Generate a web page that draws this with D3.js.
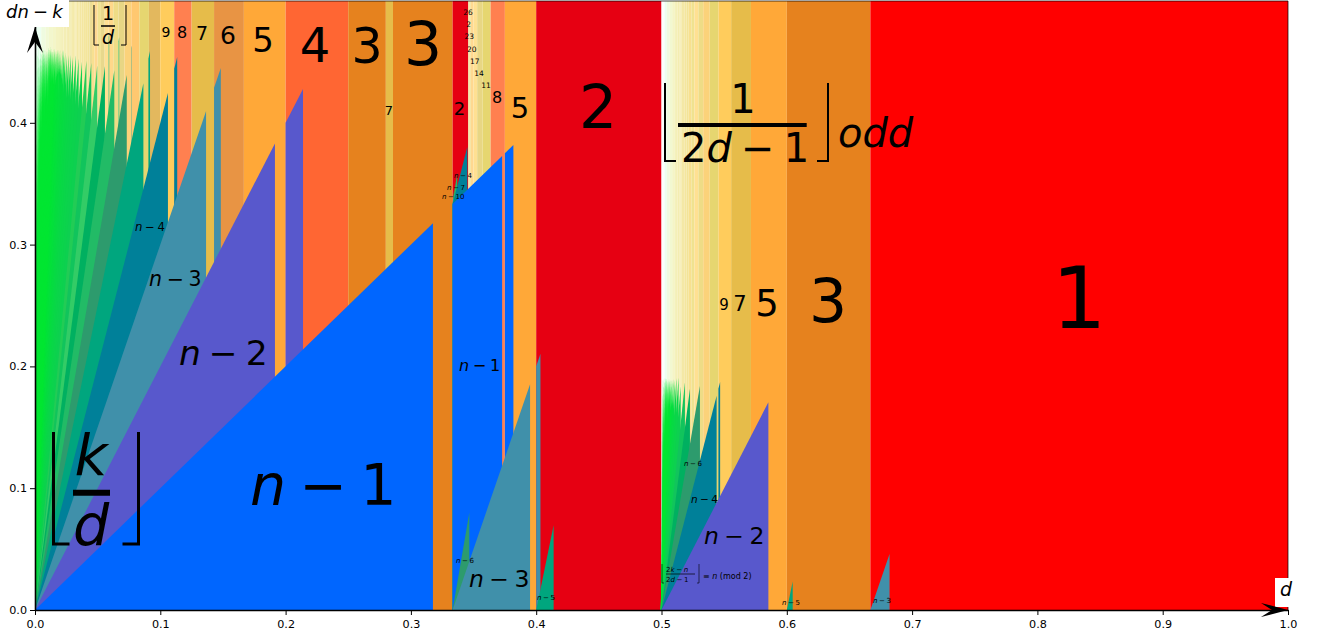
<!DOCTYPE html>
<html>
<head>
<meta charset="utf-8">
<script src="https://cdn.jsdelivr.net/npm/d3@7"></script>
<style>
  html, body { margin: 0; padding: 0; background: #fff; overflow: hidden; }
  svg { display: block; font-family: "DejaVu Sans", sans-serif; }
</style>
</head>
<body>
<svg id="chart" width="1322" height="637"></svg>
<script>
// vertical bands: each one starts at bandStart[i] and runs up to the next start
const bandStart = [
  0, 0.005, 0.0083, 0.0111, 0.0143, 0.0167, 0.0192, 0.0208, 0.0227, 0.025,
  0.0263, 0.0278, 0.0286, 0.0294, 0.0303, 0.0313, 0.0323, 0.0333, 0.0345, 0.0357,
  0.037, 0.0385, 0.04, 0.0417, 0.0435, 0.0455, 0.0476, 0.05, 0.0526, 0.0556,
  0.0588, 0.0625, 0.0667, 0.0714, 0.0769, 0.0833, 0.0909, 0.1, 0.1111, 0.125,
  0.1429, 0.1667, 0.2, 0.25, 0.28, 0.2857, 0.3333, 0.3458, 0.3466, 0.3478,
  0.35, 0.3529, 0.3571, 0.3636, 0.375, 0.4,
  0.5, 0.5025, 0.5042, 0.5063, 0.5085, 0.5102, 0.5116, 0.5128, 0.5143, 0.5152,
  0.5161, 0.5172, 0.5185, 0.52, 0.5217, 0.5238, 0.5263, 0.5294, 0.5333, 0.5385,
  0.5455, 0.5556, 0.5714, 0.6, 0.6667
]
const bandLevel = [
  200, 120, 90, 70, 60, 52, 48, 44, 40, 38,
  36, 35, 34, 33, 32, 31, 30, 29, 28, 27,
  26, 25, 24, 23, 22, 21, 20, 19, 18, 17,
  16, 15, 14, 13, 12, 11, 10, 9, 8, 7,
  6, 5, 4, 3, 7, 3, 2, 26, 23, 20,
  17, 14, 11, 8, 5, 2,
  397, 197, 117, 77, 57, 47, 41, 37, 33, 31,
  29, 27, 25, 23, 21, 19, 17, 15, 13, 11,
  9, 7, 5, 3, 1
]

// wedges: [offset, from d, to d], the offset is also the slope of the top edge
const wedgesFromZero = [
  [1, 0, 0.3176], [1, 0.3333, 0.3728], [1, 0.375, 0.3818],
  [2, 0, 0.1915], [2, 0.2, 0.2139],
  [3, 0, 0.1365], [3, 0.1429, 0.1483],
  [4, 0, 0.1061], [4, 0.1111, 0.1135],
  [5, 0, 0.0865], [5, 0.0905, 0.0918],
  [6, 0, 0.0732], [6, 0.0769, 0.0772],
  [7, 0, 0.0633], [7, 0.0667, 0.0672],
  [8, 0, 0.0558], [8, 0.0588, 0.0592],
  [9, 0, 0.0497], [10, 0, 0.0449], [11, 0, 0.041], [12, 0, 0.0375],
  [13, 0, 0.0348], [14, 0, 0.0325], [15, 0, 0.0303], [16, 0, 0.0285],
  [17, 0, 0.0268], [18, 0, 0.0253], [19, 0, 0.0241], [20, 0, 0.023],
  [21, 0, 0.0219], [22, 0, 0.0208], [23, 0, 0.02], [24, 0, 0.0191],
  [25, 0, 0.0184], [26, 0, 0.0177], [27, 0, 0.017], [28, 0, 0.0164],
  [29, 0, 0.0159], [30, 0, 0.0153], [31, 0, 0.0148], [32, 0, 0.0144],
  [33, 0, 0.0139], [34, 0, 0.0135], [35, 0, 0.0131], [36, 0, 0.0128],
  [37, 0, 0.0125], [38, 0, 0.0121], [39, 0, 0.0118], [40, 0, 0.0115],
  [42, 0, 0.011], [43, 0, 0.0107], [45, 0, 0.0102], [47, 0, 0.0098],
  [48, 0, 0.0096], [50, 0, 0.0092], [52, 0, 0.0088], [55, 0, 0.0084],
  [58, 0, 0.0079], [60, 0, 0.0077], [62, 0, 0.0074], [65, 0, 0.0071],
  [68, 0, 0.0068], [70, 0, 0.0066], [72, 0, 0.0064], [75, 0, 0.0061],
  [80, 0, 0.0058], [85, 0, 0.0054], [90, 0, 0.0051], [95, 0, 0.0048],
  [100, 0, 0.0046], [110, 0, 0.0042], [120, 0, 0.0038], [130, 0, 0.0035],
  [150, 0, 0.0031], [170, 0, 0.0027], [200, 0, 0.0023], [250, 0, 0.00184],
  [300, 0, 0.00153], [400, 0, 0.00115], [600, 0, 0.00077], [1000, 0, 0.00046],
  [2000, 0, 0.00023]
]
const wedgesFromThirdTop = [[10, 0.3333, 0.3347], [7, 0.3333, 0.337], [4, 0.3333, 0.345]]
const wedgesFromThird = [[6, 0.3333, 0.3466], [3, 0.3333, 0.3951], [3, 0.4, 0.4034]]
const wedgesFromTwoFifths = [[5, 0.4, 0.4139]]
const wedgesFromNearHalf = [[12, 0.4988, 0.5]]
const wedgesFromHalf = [
  [600, 0.5, 0.5003], [300, 0.5, 0.50063], [200, 0.5, 0.50095], [150, 0.5, 0.50127],
  [120, 0.5, 0.50158], [100, 0.5, 0.5019], [90, 0.5, 0.50211], [80, 0.5, 0.5024],
  [70, 0.5, 0.50271], [60, 0.5, 0.5032], [56, 0.5, 0.5034], [54, 0.5, 0.50352],
  [50, 0.5, 0.5038], [46, 0.5, 0.50413], [44, 0.5, 0.50432], [40, 0.5, 0.5047],
  [38, 0.5, 0.505], [35, 0.5, 0.5054], [32, 0.5, 0.50594], [30, 0.5, 0.5063],
  [28, 0.5, 0.5068], [26, 0.5, 0.5073], [24, 0.5, 0.5079], [22, 0.5, 0.5086],
  [20, 0.5, 0.5095], [18, 0.5, 0.5105], [16, 0.5, 0.5119], [14, 0.5, 0.5136],
  [12, 0.5, 0.5153], [10, 0.5, 0.5187], [8, 0.5, 0.5227], [6, 0.5, 0.5307],
  [4, 0.5, 0.544], [4, 0.5454, 0.5468], [2, 0.5, 0.5853]
]
const wedgesFromThreeFifths = [[5, 0.6, 0.6047]]
const wedgesFromTwoThirds = [[3, 0.6667, 0.682]]

const xTicks = [0, 0.1, 0.2, 0.3, 0.4, 0.5, 0.6, 0.7, 0.8, 0.9, 1]
const yTicks = [0, 0.1, 0.2, 0.3, 0.4]

const levelColors = [
  "#ff0000", "#e60012", "#e6821e", "#ff6633", "#ffa838", "#e89444", "#e6bc4a", "#ff8050",
  "#ffcc5c", "#e3b85e", "#e6d670", "#ffc870", "#fbd27a", "#e8d684", "#eedc86", "#ffd88a",
  "#ffe092", "#e8d88c", "#f0e290", "#ffd890", "#f8e090", "#ecdc94", "#f2e498"
]
const offsetColors = [
  "#0066ff", "#5858cc", "#4090aa", "#008099", "#00a67e", "#2d9b6d",
  "#22bb66", "#00b060", "#33cc66", "#11c45c", "#22cc55", "#0dd050"
]

const svg = d3.select('#chart')
const x = d3.scaleLinear().domain([0, 1]).range([35, 1288])
const y = d3.scaleLinear().domain([0, 0.5]).range([610, 1])

const paleRamp = d3.scaleLog().domain([23, 60, 200, 400]).range(["#f4e49a", "#f4f6c8", "#ecfff2", "#fdfffd"]).clamp(true)
const greenRamp = d3.scaleLog().domain([12, 30]).range(["#0dd050", "#00e632"]).clamp(true)
const levelColor = level => levelColors[level - 1] || paleRamp(level)
const offsetColor = offset => offsetColors[offset - 1] || greenRamp(offset)

// bands
svg.append('g').attr('class', 'bands')
  .selectAll('rect')
  .data(bandStart)
  .join('rect')
  .attr('x', d => x(d))
  .attr('width', (d, i) => x(i + 1 < bandStart.length ? bandStart[i + 1] : 1) - x(d))
  .attr('y', y(0.5))
  .attr('height', y(0) - y(0.5))
  .attr('fill', (d, i) => levelColor(bandLevel[i]))

function drawWedges(rows, originD, originY) {
  const sorted = rows.slice().sort((a, b) => b[0] - a[0])
  svg.append('g').attr('class', 'wedges')
    .selectAll('path')
    .data(sorted)
    .join('path')
    .attr('fill', r => offsetColor(r[0]))
    .attr('d', r => d3.area()
      .x(d => x(d))
      .y0(y(0))
      .y1(d => y(originY + r[0] * (d - originD)))([r[1], r[2]]))
}

drawWedges(wedgesFromThirdTop, 0.3333, 0.3333)
drawWedges(wedgesFromZero, 0, 0)
drawWedges(wedgesFromThird, 0.3333, 0)
drawWedges(wedgesFromTwoFifths, 0.4, 0)
drawWedges(wedgesFromNearHalf, 0.4988, 0)
drawWedges(wedgesFromHalf, 0.5, 0)
drawWedges(wedgesFromThreeFifths, 0.6, 0)
drawWedges(wedgesFromTwoThirds, 0.6667, 0)

// frame and axes
svg.append('line').attr('x1', x(0)).attr('x2', x(1)).attr('y1', y(0.5)).attr('y2', y(0.5))
  .attr('stroke', '#000').attr('stroke-width', 1).attr('stroke-opacity', 0.7)
svg.append('line').attr('x1', x(1)).attr('x2', x(1)).attr('y1', y(0.5)).attr('y2', y(0))
  .attr('stroke', '#000').attr('stroke-width', 1).attr('stroke-opacity', 0.7)

const xAxis = svg.append('g').attr('transform', `translate(0,${y(0)})`)
  .call(d3.axisBottom(x).tickValues(xTicks).tickFormat(d3.format('.1f')).tickSize(5).tickSizeOuter(0))
const yAxis = svg.append('g').attr('transform', `translate(${x(0)},0)`)
  .call(d3.axisLeft(y).tickValues(yTicks).tickFormat(d3.format('.1f')).tickSize(5).tickSizeOuter(0))
xAxis.selectAll('text').attr('font-size', 11.2).attr('font-family', '"DejaVu Sans"').attr('dy', '0.9em')
yAxis.selectAll('text').attr('font-size', 11.2).attr('font-family', '"DejaVu Sans"')
xAxis.select('.domain').attr('stroke-width', 1.6)
yAxis.select('.domain').attr('stroke-width', 1.6)

// white patches behind the axis names
svg.append('rect').attr('x', 0).attr('y', 0).attr('width', 69).attr('height', 27).attr('fill', '#fff')
svg.append('rect').attr('x', 1275).attr('y', 578).attr('width', 14).attr('height', 29).attr('fill', '#fff')

// axis arrows
svg.append('path').attr('fill', '#000')
  .attr('d', `M${x(1)},${y(0)} L${x(1) - 27},${y(0) - 7} L${x(1) - 16},${y(0)} L${x(1) - 27},${y(0) + 7} Z`)
svg.append('path').attr('fill', '#000')
  .attr('d', `M${x(0)},27 L${x(0) - 8},53 L${x(0)},42 L${x(0) + 8},53 Z`)

// text helpers
function addRuns(node, str) {
  str.match(/[a-z]+|[0-9]+/g).forEach(run => {
    node.append('tspan')
      .attr('font-style', /[a-z]/.test(run) ? 'italic' : 'normal')
      .text(run)
  })
}

function math(str, px, base, size, anchor) {
  const t = svg.append('text')
    .attr('x', px).attr('y', base)
    .attr('font-size', size)
    .attr('text-anchor', anchor || 'start')
    .attr('fill', '#000')
  const sides = str.split(' − ')
  addRuns(t, sides[0])
  if (sides.length > 1) {
    t.append('tspan').attr('dx', '0.23em').text('−')
    const before = t.selectAll('tspan').size()
    addRuns(t, sides[1])
    t.selectAll('tspan').filter((d, i) => i === before).attr('dx', '0.23em')
  }
  return t
}

function bracket(left, right, top, bottom, foot, width) {
  const p = `M${left + foot},${bottom} H${left} V${top} M${right},${top} V${bottom} H${right - foot}`
  svg.append('path').attr('d', p).attr('fill', 'none').attr('stroke', '#000').attr('stroke-width', width)
}

function bar(left, right, at, width) {
  svg.append('line').attr('x1', left).attr('x2', right).attr('y1', at).attr('y2', at)
    .attr('stroke', '#000').attr('stroke-width', width)
}

// axis names
math('dn − k', 6, 18, 18)
math('d', 1280, 596, 19)

// band values, first half
math('1', 1079, 328, 86, 'middle')
math('2', 598, 128, 60, 'middle')
math('3', 423, 65, 60, 'middle')
math('3', 367, 63, 49, 'middle')
math('4', 315, 62, 48, 'middle')
math('5', 263, 52, 34, 'middle')
math('6', 228, 44, 25, 'middle')
math('7', 202, 40, 19, 'middle')
math('8', 182, 38, 16, 'middle')
math('9', 166, 37, 14, 'middle')
math('7', 389, 115, 13, 'middle')
math('2', 459.5, 115, 18, 'middle')
math('8', 497, 103, 16, 'middle')
math('5', 520, 118, 29, 'middle')
math('11', 486, 88, 7.5, 'middle')
math('14', 479, 75.5, 7.5, 'middle')
math('17', 474.7, 63.5, 7.5, 'middle')
math('20', 471.7, 51.5, 7.5, 'middle')
math('23', 469.3, 39, 7.5, 'middle')
math('2', 468.7, 27, 7.5, 'middle')
math('26', 468, 15, 7.5, 'middle')

// band values, second half
math('3', 828, 322, 60, 'middle')
math('5', 767, 316, 37, 'middle')
math('7', 740, 311, 21, 'middle')
math('9', 724, 310, 15, 'middle')

// wedge names
math('n − 1', 250, 505, 57)
math('n − 2', 179, 365, 34.5)
math('n − 3', 149, 286, 20.5)
math('n − 4', 135, 231, 11.7)
math('n − 1', 459, 371, 16)
math('n − 3', 469, 587, 23.5)
math('n − 5', 537, 600, 7)
math('n − 6', 456, 563, 7)
math('n − 4', 454, 178, 7)
math('n − 7', 447, 190, 7)
math('n − 10', 442, 199, 7)
math('n − 2', 704, 544, 23.5)
math('n − 4', 691, 503, 10.5)
math('n − 6', 684, 466, 7)
math('n − 5', 782, 605, 7)
math('n − 3', 873, 603, 7)

// floor fractions
bracket(94, 126, 5, 45, 5, 1)
math('1', 108, 20, 19, 'middle')
bar(101, 115, 26, 1.5)
math('d', 108, 44, 19, 'middle')

bracket(53.5, 138.5, 432, 544, 16, 3)
math('k', 91, 475, 57, 'middle')
bar(73, 110, 492.7, 6)
math('d', 91, 545, 57, 'middle')

bracket(665, 828, 83, 161, 11, 2)
math('1', 743, 112.7, 40, 'middle')
bar(678, 806.7, 125, 4)
math('2d − 1', 681, 161.7, 40)
math('odd', 838, 146.7, 40)

bracket(662, 699, 564, 583, 2, 0.6)
math('2k − n', 666, 571.7, 7)
bar(666, 695, 574, 0.7)
math('2d − 1', 666, 582, 7)
const modNote = svg.append('text').attr('x', 703).attr('y', 579).attr('font-size', 8).attr('fill', '#000')
modNote.append('tspan').text('≡ ')
modNote.append('tspan').attr('font-style', 'italic').text('n')
modNote.append('tspan').text(' (mod 2)')
</script>
</body>
</html>
